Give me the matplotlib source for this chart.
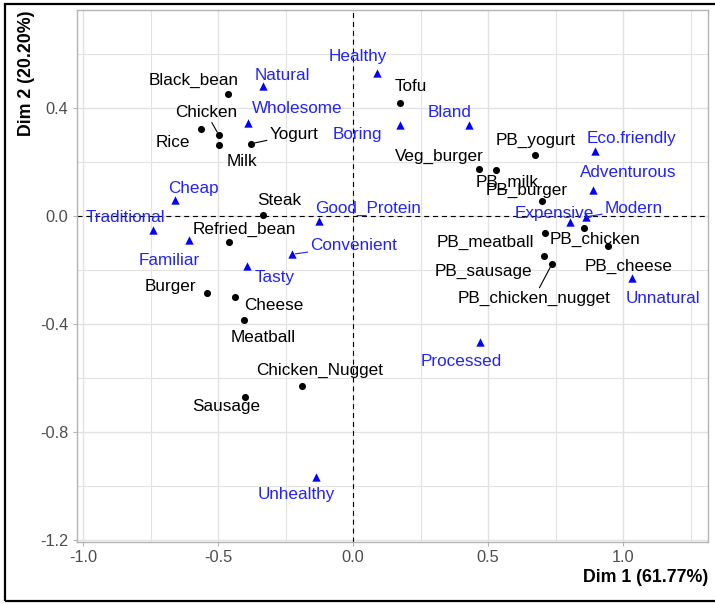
import matplotlib
matplotlib.use("Agg")
import matplotlib.pyplot as plt
from matplotlib.patches import Rectangle
from matplotlib.ticker import MultipleLocator

plt.rcParams["font.family"] = ["Liberation Sans", "DejaVu Sans"]

# ── Correspondence analysis coordinates ───────────────────────────────────────
FOODS = [
    "Black_bean", "Chicken", "Rice", "Milk", "Yogurt", "Steak", "Refried_bean",
    "Burger", "Cheese", "Meatball", "Chicken_Nugget", "Sausage", "Tofu",
    "Veg_burger", "PB_milk", "PB_yogurt", "PB_burger", "PB_chicken",
    "PB_meatball", "PB_cheese", "PB_sausage", "PB_chicken_nugget",
]
FOOD_DIM1 = [
    -0.465, -0.497, -0.564, -0.497, -0.378, -0.334, -0.460,
    -0.543, -0.439, -0.404, -0.191, -0.399, 0.172,
    0.467, 0.529, 0.673, 0.700, 0.854,
    0.710, 0.942, 0.705, 0.736,
]
FOOD_DIM2 = [
    0.453, 0.299, 0.321, 0.262, 0.268, 0.004, -0.095,
    -0.286, -0.301, -0.385, -0.628, -0.672, 0.417,
    0.174, 0.169, 0.226, 0.056, -0.043,
    -0.063, -0.111, -0.147, -0.178,
]

ATTRIBUTES = [
    "Natural", "Wholesome", "Cheap", "Traditional", "Familiar", "Tasty",
    "Convenient", "Good_Protein", "Healthy", "Boring", "Bland", "Eco.friendly",
    "Adventurous", "Expensive", "Modern", "Unnatural", "Processed", "Unhealthy",
]
ATTR_DIM1 = [
    -0.334, -0.391, -0.660, -0.741, -0.610, -0.394,
    -0.227, -0.126, 0.089, 0.172, 0.427, 0.896,
    0.887, 0.803, 0.862, 1.032, 0.470, -0.138,
]
ATTR_DIM2 = [
    0.481, 0.346, 0.059, -0.052, -0.089, -0.184,
    -0.142, -0.017, 0.531, 0.338, 0.338, 0.241,
    0.096, -0.022, -0.003, -0.230, -0.468, -0.965,
]

DIM1_LABEL = "Dim 1 (61.77%)"
DIM2_LABEL = "Dim 2 (20.20%)"

# ── Repelled label offsets (pixels from the point) ───────────────────────────
FOOD_OFFSETS = {
    "Black_bean": (-34, 13), "Chicken": (-13, 23), "Rice": (-28, -13),
    "Milk": (23, -16), "Yogurt": (43, 9), "Steak": (16, 14),
    "Refried_bean": (15, 12), "Burger": (-36, 7), "Cheese": (39, -8),
    "Meatball": (19, -18), "Chicken_Nugget": (18, 15), "Sausage": (-19, -9),
    "Tofu": (11, 17), "Veg_burger": (-40, 13), "PB_milk": (11, -12),
    "PB_yogurt": (1, 15), "PB_burger": (-16, 10), "PB_chicken": (11, -12),
    "PB_meatball": (-60, -9), "PB_cheese": (21, -20), "PB_sausage": (-60, -16),
    "PB_chicken_nugget": (-18, -34),
}
ATTR_OFFSETS = {
    "Natural": (19, 11), "Wholesome": (50, 14), "Cheap": (18, 12),
    "Traditional": (-28, 13), "Familiar": (-19, -20), "Tasty": (28, -12),
    "Convenient": (62, 9), "Good_Protein": (49, 12), "Healthy": (-19, 16),
    "Boring": (-42, -10), "Bland": (-19, 12), "Eco.friendly": (36, 12),
    "Adventurous": (36, 18), "Expensive": (-16, 8), "Modern": (48, 8),
    "Unnatural": (31, -20), "Processed": (-19, -19), "Unhealthy": (-20, -18),
}
# labels pushed far enough that ggrepel draws a leader segment
SEGMENTED = {"Chicken", "Yogurt", "PB_chicken_nugget", "Convenient", "Modern"}

FOOD_COLOUR = "black"
ATTR_COLOUR = "#0000FF"
ATTR_TEXT = "#2222FF"
GRID = "#E2E2E2"
FRAME = "#B3B3B3"


def add_labels(ax, names, xs, ys, offsets, colour):
    for name, x, y in zip(names, xs, ys):
        dx, dy = offsets[name]
        arrow = None
        if name in SEGMENTED:
            arrow = dict(arrowstyle="-", color=colour, lw=0.8,
                         shrinkA=0, shrinkB=2.5)
        ax.annotate(
            name, xy=(x, y), xytext=(dx, dy), textcoords="offset pixels",
            ha="center", va="center", fontsize=12.3, color=colour,
            arrowprops=arrow, zorder=5,
        )


def main() -> None:
    fig = plt.figure(figsize=(7.15, 6.03), dpi=100)
    ax = fig.add_axes([0.1073, 0.1017, 0.8833, 0.8817])

    ax.set_xlim(-1.024, 1.315)
    ax.set_ylim(-1.206, 0.763)

    # theme_light-like panel
    ax.xaxis.set_major_locator(MultipleLocator(0.5))
    ax.xaxis.set_minor_locator(MultipleLocator(0.25))
    ax.yaxis.set_major_locator(MultipleLocator(0.4))
    ax.yaxis.set_minor_locator(MultipleLocator(0.2))
    ax.grid(which="major", color=GRID, lw=1.0, zorder=0)
    ax.grid(which="minor", color=GRID, lw=0.8, zorder=0)
    ax.set_axisbelow(True)
    for sp in ax.spines.values():
        sp.set_color(FRAME)
        sp.set_linewidth(1.0)
    ax.tick_params(which="major", length=3, width=0.8, color=FRAME,
                   labelsize=11.8, labelcolor="#4D4D4D", pad=3)
    ax.tick_params(which="minor", length=0)
    ax.xaxis.set_major_formatter(lambda v, _: f"{v:.1f}")
    ax.yaxis.set_major_formatter(lambda v, _: f"{v:.1f}")

    ax.axhline(0, color="black", lw=0.8, dashes=(4.5, 3.5), zorder=1)
    ax.axvline(0, color="black", lw=0.8, dashes=(4.5, 3.5), zorder=1)

    ax.scatter(FOOD_DIM1, FOOD_DIM2, s=26, color=FOOD_COLOUR, marker="o",
               linewidths=0, zorder=3)
    ax.scatter(ATTR_DIM1, ATTR_DIM2, s=36, color=ATTR_COLOUR, marker="^",
               linewidths=0, zorder=3)

    add_labels(ax, FOODS, FOOD_DIM1, FOOD_DIM2, FOOD_OFFSETS, FOOD_COLOUR)
    add_labels(ax, ATTRIBUTES, ATTR_DIM1, ATTR_DIM2, ATTR_OFFSETS, ATTR_TEXT)

    ax.set_xlabel(DIM1_LABEL, loc="right", fontsize=12.8, fontweight="bold",
                  labelpad=3)
    ax.set_ylabel(DIM2_LABEL, loc="top", fontsize=12.8, fontweight="bold",
                  labelpad=4)

    # outer frame around the exported figure
    fig.patches.append(Rectangle((5 / 715, 2 / 603), 1.0, 600 / 603 - 2 / 603 - 1 / 603,
                                 transform=fig.transFigure, fill=False,
                                 edgecolor="black", lw=1.6, clip_on=False))

    fig.savefig("out.png", dpi=100)
    plt.close(fig)


if __name__ == "__main__":
    main()
